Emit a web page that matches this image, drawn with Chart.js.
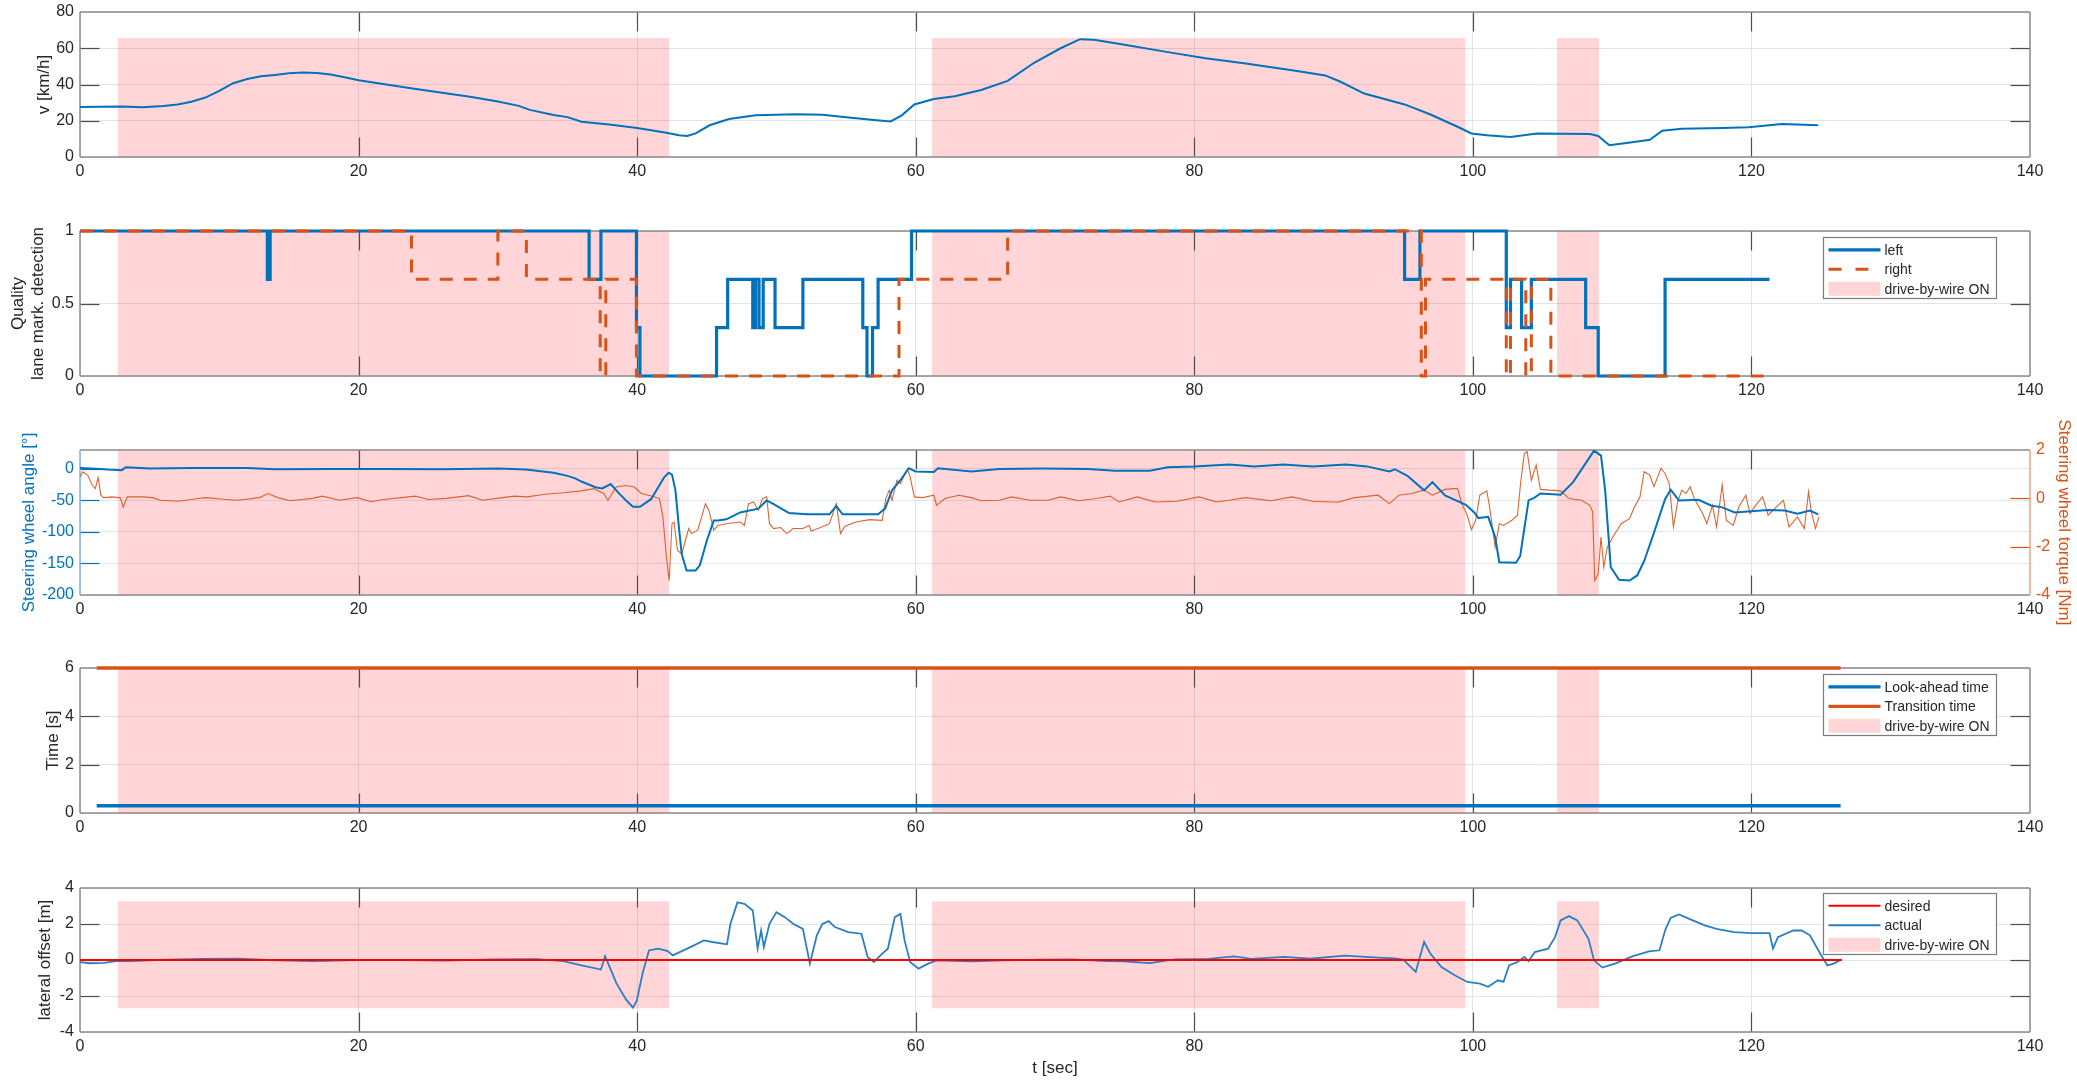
<!DOCTYPE html>
<html><head><meta charset="utf-8">
<script src="https://cdn.jsdelivr.net/npm/chart.js@4.4.1/dist/chart.umd.min.js"></script>
<style>
html,body{margin:0;padding:0;background:#fff;width:2077px;height:1088px;overflow:hidden;position:relative;}
canvas.c{position:absolute;left:0;}
</style></head><body>
<canvas id="c1" class="c"></canvas>
<canvas id="c2" class="c"></canvas>
<canvas id="c3" class="c"></canvas>
<canvas id="c4" class="c"></canvas>
<canvas id="c5" class="c"></canvas>
<script>
// ---------------- data ----------------
const xTicks = [0,20,40,60,80,100,120,140];
const dbwStart = [2.72, 61.18, 106.04];
const dbwEnd   = [42.3, 99.45, 109.05];

// subplot 1: speed
const speedT = [0,1.5,3,4.5,6,7,8,9,10,11,12,13,14,15,16,17,18,19,20,22,24,26,28,30,31.5,32.3,34,35,36,38,40,42,43,43.6,44.2,45.2,46.6,48.5,51.4,53.3,55.2,57,58.2,59,59.9,61.3,62.8,64.7,66.6,68.5,70.4,71.8,72.8,75.1,78,80.8,83.7,87.5,89.4,90.5,92.2,95.1,97,98.9,99.9,101,102.7,104.6,106.5,108.4,109,109.8,111.3,112.7,113.6,115,117.9,119.8,122.2,124.8];
const speedV = [27.6,27.7,27.8,27.5,28.2,29,30.5,32.8,36.5,40.7,43,44.5,45.3,46.2,46.6,46.4,45.5,44,42.4,40,37.6,35.4,33.2,30.6,28.2,26,23.2,22,19.5,17.9,16,13.5,12,11.6,13,17.5,21,23,23.6,23.3,21.8,20.4,19.6,23,29,32,33.5,37,42,52,60,65,64.7,61.8,58,54.5,51.6,47.3,45,41.5,35,29,23.3,16.7,13,12,11,13,12.8,12.7,11.6,6.5,8,9.5,14.5,15.6,16,16.4,18.2,17.5];
const speedTicks = [0,20,40,60,80];

// subplot 2: lane marking quality (step values)
const qLeftT = [0,13.45,13.65,36.55,37.4,39.95,40.2,45.7,46.5,48.3,48.5,48.75,49.05,49.9,51.9,56.2,56.5,56.9,57.3,59.7,95.1,96.2,102.4,102.7,103.5,104.2,108.1,109.0,113.8,121.3];
const qLeftV = [1,0.667,1,0.667,1,0.333,0,0.333,0.667,0.333,0.667,0.333,0.667,0.333,0.667,0.333,0,0.333,0.667,1,0.667,1,0.333,0.667,0.333,0.667,0.333,0,0.667,0.667];
const qRightT = [0,23.8,30.0,32.05,37.35,37.75,39.95,58.8,66.6,96.3,96.6,102.4,102.7,103.8,104.2,105.6,121.3];
const qRightV = [1,0.667,1,0.667,0,0.667,0,0.667,1,0,0.667,0,0.667,0,0.667,0,0];
const qualTicks = [0,0.5,1];

// subplot 3: steering wheel angle (left) and torque (right)
const angleT = [0,1.5,2,3,3.3,5,8,12,14,18,22,26,30,32,34,35,35.55,36,37,37.5,38.1,38.75,39.2,39.7,40.2,41,41.95,42.27,42.5,42.75,43,43.2,43.55,44.2,44.5,45,45.5,45.8,46.4,47.4,48.7,49.3,49.8,50.6,50.9,52.2,53.8,54.3,54.75,57.3,57.8,58.3,58.9,59.5,60,61.3,61.6,64,66,69.2,72.4,74.3,76.8,78.1,80,82.5,84.3,86.4,88.5,90.9,92.4,94,94.4,95.3,96.5,97.1,98,99.5,100.1,100.4,101.1,101.6,101.9,103.1,103.4,104,104.4,104.85,106.3,107.2,108.7,109.2,109.5,109.9,110.5,111.25,111.8,112.3,112.9,113.8,114.2,114.8,116.2,117.1,117.9,118.8,120,121.2,122.4,123.3,124.2,124.8];
const angleV = [1.6,0,-1,-2,2.6,0.5,1.6,1.6,-0.5,0,0,-0.5,0.5,-1,-6,-11,-15,-20,-29,-31,-24,-40,-50,-60,-60,-48,-13,-6,-9,-34,-93,-135,-161,-161,-153,-114,-82,-82,-80,-69,-63,-50,-56,-66,-70,-72,-72,-59,-72,-72,-63,-34,-18,1,-4,-5,1,-4,0,0.5,0,-3,-3,2.6,3.7,7,3.7,7,3.7,7,4,-4,-0.5,-11,-34,-21,-42,-57,-69,-78,-76,-108,-148,-149,-138,-50,-46,-39,-41,-21,29,21,-34,-156,-176,-177,-169,-146,-108,-48,-33,-50,-49,-58,-61,-69,-67,-65,-66,-71,-66,-72];
const torqueT = [0,0.2,0.55,0.87,1.1,1.3,1.5,1.7,2.3,2.9,3.1,3.4,4.55,5.2,5.8,7.1,8.1,9,10.3,11.3,12.9,13.5,14.2,15.1,16.7,17.4,18.65,19.9,20.9,21.8,23.1,24.1,25,26.3,27.9,28.9,30.2,31.2,32.1,33.4,34.7,36,36.9,37.6,37.9,38.5,39.2,39.8,40.3,41.1,41.6,41.85,42.1,42.3,42.5,42.65,42.9,43.2,43.4,43.7,43.9,44.35,44.7,44.9,45.15,45.5,45.8,46.4,47.4,47.7,48,48.35,48.7,49,49.3,49.5,49.8,50.3,50.75,51.2,51.9,52.35,52.5,53.15,53.8,54.3,54.6,54.9,55.7,56.7,57.6,57.85,58.1,58.3,58.65,58.9,59.4,59.6,59.9,60.5,61.3,61.5,62.1,63.1,64,64.7,66,66.9,68.2,69.5,70.4,71.7,73,73.95,74.6,75.9,77.2,78.75,80.35,81.6,82.5,83.7,85.5,87,88.5,90.3,91.5,93.2,94,94.7,95.6,96.5,97.1,98,98.9,99.2,99.6,99.9,100.2,100.5,101,101.2,101.6,101.9,102.2,102.8,103.2,103.45,103.7,103.9,104.2,104.55,104.85,105.45,106.3,106.9,107.8,108.4,108.6,108.75,109,109.2,109.4,109.65,110.05,110.65,111.25,111.55,112,112.3,112.7,113,113.5,113.8,114.1,114.4,114.7,115,115.3,115.6,115.9,116.5,116.8,117.2,117.5,117.9,118.2,118.7,119.1,119.6,119.9,120.3,120.8,121.2,121.8,122.3,122.7,123.3,123.8,124.1,124.3,124.6,124.85];
const torqueV = [0.89,1.1,0.96,0.55,0.4,0.86,0.13,0.03,0.06,0.02,-0.36,0.06,0.06,0.03,-0.08,-0.12,-0.04,0.03,-0.04,-0.08,0.03,0.2,0.03,-0.1,0,0.09,-0.08,0.03,-0.14,-0.05,0.03,0.09,-0.05,0,0.11,-0.08,0.02,0.09,0.06,0.17,0.23,0.31,0.4,0.2,-0.08,0.47,0.53,0.47,0.2,0.09,-0.01,-0.77,-2.43,-3.4,-1.05,-0.98,-2.16,-2.3,-1.88,-1.25,-1.46,-1.32,-0.63,-0.22,-0.49,-1.32,-1.12,-1.05,-0.98,-1.12,-0.22,-0.15,-0.49,-0.01,0.06,-1.05,-1.25,-1.21,-1.46,-1.25,-1.25,-1.12,-1.35,-1.21,-1.05,-0.22,-1.46,-1.16,-0.98,-0.88,-0.91,-0.01,0.34,-0.08,0.75,0.61,1.2,0.89,0.06,0.03,0.13,-0.29,-0.01,0.13,0.03,-0.1,-0.08,0.06,-0.08,-0.08,0.06,-0.1,-0.01,0.09,-0.15,0.06,-0.15,-0.12,0.06,-0.15,-0.08,0.03,-0.1,0.06,-0.12,-0.16,0.03,0.13,-0.22,0.13,0.2,0.34,0.13,0.37,0.41,-0.22,-0.7,-1.3,-0.91,0.13,0.31,-0.35,-2.02,-1.05,-1.12,-0.91,-0.7,0.75,1.86,1.93,0.75,1.38,0.37,0.34,0.31,-0.01,-0.08,-0.29,-0.56,-3.4,-3.12,-1.6,-2.85,-2.02,-1.6,-1.05,-0.84,-0.42,0.06,1.1,0.96,0.48,1.24,1.03,0.61,-1.19,-0.15,0.34,0.2,0.48,-0.01,-0.63,-1.05,-0.29,-1.19,0.55,-0.91,-1.12,-0.35,0.13,-0.63,-0.29,0.06,-0.7,-0.35,-0.08,-1.19,-0.77,-1.25,0.27,-0.56,-1.25,-0.77];
const angleTicks = [-200,-150,-100,-50,0];
const torqueTicks = [-4,-2,0,2];

// subplot 4: times
const lookT = [1.2,126.4];  const lookV = [0.3,0.3];
const transT = [1.2,126.4]; const transV = [6,6];
const timeTicks = [0,2,4,6];

// subplot 5: lateral offset
const desT = [0,126.5]; const desV = [0,0];
const latT = [0,0.7,1.7,2.6,3.6,5.5,8.7,11.3,13.5,16.7,19.9,23.1,26.3,29.6,32.8,34.7,36,37.4,37.7,38,38.5,39.2,39.7,39.97,40.4,40.85,41.5,42.2,42.55,43.6,44.8,45.4,46.45,46.7,47.2,47.7,48.3,48.65,48.9,49.1,49.5,50,50.6,51.2,51.9,52.4,52.9,53.3,53.75,54.2,55.15,56.1,56.55,57,57.6,58,58.5,58.9,59.2,59.6,60.2,60.9,61.5,64,66.4,68.85,71.3,73.7,74.9,76.8,78.6,81,82.85,84.1,86.5,88.3,90.8,93.2,94.4,95,95.9,96.5,96.95,97.75,98.7,99.6,100.5,101.1,101.8,102.2,102.6,103.2,103.7,104,104.45,105.4,105.9,106.3,106.9,107.5,108.3,108.7,109.3,110.2,111.45,112.65,113.4,113.8,114.2,114.8,115.7,116.65,117.5,118.75,120,121.3,121.55,121.9,123,123.6,124.2,124.8,125.45,125.9,126.4];
const latV = [-0.12,-0.18,-0.16,-0.06,-0.06,0,0.06,0.08,0,-0.06,0,0,-0.03,0.03,0.05,-0.06,-0.3,-0.53,0.21,-0.34,-1.27,-2.19,-2.65,-2.28,-0.71,0.53,0.63,0.49,0.26,0.63,1.09,1.0,0.87,2.01,3.2,3.12,2.75,0.63,1.64,0.72,2.01,2.66,2.38,2.01,1.73,-0.2,1.37,2.01,2.16,1.83,1.55,1.46,0.17,-0.11,0.35,0.63,2.38,2.56,1.09,-0.11,-0.48,-0.2,-0.02,-0.07,-0.02,0.02,0.04,-0.06,-0.07,-0.17,0.04,0.06,0.2,0.06,0.17,0.07,0.24,0.13,0.09,0.02,-0.66,1.0,0.35,-0.39,-0.85,-1.22,-1.31,-1.49,-1.13,-1.22,-0.3,-0.11,0.17,-0.06,0.44,0.63,1.27,2.2,2.44,2.2,1.18,-0.02,-0.42,-0.2,0.2,0.48,0.54,1.64,2.34,2.53,2.23,1.92,1.73,1.55,1.49,1.49,0.63,1.27,1.64,1.64,1.37,0.54,-0.3,-0.2,0];
const latTicks = [-4,-2,0,2,4];

// ---------------- style ----------------
const FF = "'Liberation Sans', Arial, Helvetica, sans-serif";
const BLUE = '#0072BD', ORANGE = '#D95319', RED = '#FF0000';
const PINK = 'rgba(255,0,12,0.165)';
const TXT = '#262626';
const GRID = '#e3e3e3';
const PAD_TOP = 36;
const TICK_FS = 16, TITLE_FS = 17;
const pts = (T, V) => T.map((t, i) => ({x: t, y: V[i]}));

const matPlugin = {
  id: 'mat',
  beforeDatasetsDraw(chart, args, o) {
    const {ctx, chartArea: a, scales} = chart;
    const ys = scales[o.shadeAxis || 'y'];
    ctx.save();
    ctx.beginPath(); ctx.rect(a.left, a.top, a.right - a.left, a.bottom - a.top); ctx.clip();
    ctx.fillStyle = PINK;
    for (let i = 0; i < dbwStart.length; i++) {
      const x0 = scales.x.getPixelForValue(dbwStart[i]);
      const x1 = scales.x.getPixelForValue(dbwEnd[i]);
      const y0 = ys.getPixelForValue(o.shadeHi);
      const y1 = ys.getPixelForValue(o.shadeLo);
      ctx.fillRect(x0, y0, x1 - x0, y1 - y0);
    }
    ctx.restore();

    const TL = 19.5;
    ctx.save();
    ctx.lineWidth = 1.2;
    ctx.strokeStyle = '#4d4d4d';
    scales.x.ticks.forEach(t => {
      if (t.value <= scales.x.min || t.value >= scales.x.max) return;
      const px = Math.round(scales.x.getPixelForValue(t.value)) + 0.5;
      ctx.beginPath();
      ctx.moveTo(px, a.bottom); ctx.lineTo(px, a.bottom - TL);
      ctx.moveTo(px, a.top); ctx.lineTo(px, a.top + TL);
      ctx.stroke();
    });
    const yl = scales.y;
    ctx.strokeStyle = o.leftTickColor || '#4d4d4d';
    yl.ticks.forEach(t => {
      if (t.value <= yl.min || t.value >= yl.max) return;
      const py = Math.round(yl.getPixelForValue(t.value)) + 0.5;
      ctx.beginPath(); ctx.moveTo(a.left, py); ctx.lineTo(a.left + TL, py); ctx.stroke();
      if (!scales.y2) { ctx.beginPath(); ctx.moveTo(a.right, py); ctx.lineTo(a.right - TL, py); ctx.stroke(); }
    });
    if (scales.y2) {
      const yr = scales.y2;
      ctx.strokeStyle = o.rightTickColor || '#4d4d4d';
      yr.ticks.forEach(t => {
        if (t.value <= yr.min || t.value >= yr.max) return;
        const py = Math.round(yr.getPixelForValue(t.value)) + 0.5;
        ctx.beginPath(); ctx.moveTo(a.right, py); ctx.lineTo(a.right - TL, py); ctx.stroke();
      });
    }
    ctx.lineWidth = 1.5;
    ctx.strokeStyle = '#8c8c8c';
    ctx.beginPath();
    ctx.moveTo(a.left, a.top); ctx.lineTo(a.right, a.top);
    ctx.moveTo(a.left, a.bottom); ctx.lineTo(a.right, a.bottom);
    ctx.stroke();
    ctx.strokeStyle = o.leftSpine || '#8c8c8c';
    ctx.beginPath(); ctx.moveTo(a.left, a.top); ctx.lineTo(a.left, a.bottom); ctx.stroke();
    ctx.strokeStyle = o.rightSpine || '#8c8c8c';
    ctx.beginPath(); ctx.moveTo(a.right, a.top); ctx.lineTo(a.right, a.bottom); ctx.stroke();
    ctx.restore();
  },
  afterDraw(chart, args, o) {
    if (!o.legend) return;
    const {ctx, chartArea: a} = chart;
    const w = 173, h = 61;
    const x = Math.round(a.right - 34 - w) + 0.5, y = Math.round(a.top + o.legendTop) + 0.5;
    ctx.save();
    ctx.fillStyle = '#fff';
    ctx.fillRect(x, y, w, h);
    ctx.strokeStyle = '#7a7a7a'; ctx.lineWidth = 1.2;
    ctx.strokeRect(x, y, w, h);
    ctx.font = '14px ' + FF;
    ctx.textBaseline = 'middle';
    o.legend.forEach((it, i) => {
      const cy = y + 12.3 + i * 19.5;
      if (it.patch) {
        ctx.fillStyle = PINK;
        ctx.fillRect(x + 5, cy - 7, 52, 14);
      } else {
        ctx.strokeStyle = it.color; ctx.lineWidth = it.width;
        ctx.setLineDash(it.dash || []);
        ctx.beginPath(); ctx.moveTo(x + 5, cy); ctx.lineTo(x + 57, cy); ctx.stroke();
        ctx.setLineDash([]);
      }
      ctx.fillStyle = TXT;
      ctx.fillText(it.label, x + 61, cy + 1);
    });
    ctx.restore();
  }
};

function xScale(xh, title) {
  return {
    type: 'linear', min: 0, max: 140,
    afterBuildTicks: s => { s.ticks = xTicks.map(v => ({value: v})); },
    afterFit: s => { s.height = xh; },
    grid: {color: GRID, drawTicks: false, lineWidth: 1},
    border: {display: false},
    ticks: {font: {family: FF, size: TICK_FS}, color: TXT, padding: 5, autoSkip: false, maxRotation: 0, callback: v => String(v)},
    title: title ? {display: true, text: title, color: TXT, font: {family: FF, size: TITLE_FS, lineHeight: 1.2}, padding: {top: 0, bottom: 9}} : {display: false}
  };
}
function yScale(o) {
  return {
    type: 'linear', position: o.position || 'left', min: o.min, max: o.max,
    afterBuildTicks: s => { s.ticks = o.ticks.map(v => ({value: v})); },
    afterFit: s => { s.width = o.width; },
    grid: o.noGrid ? {drawOnChartArea: false, drawTicks: false} : {color: o.gridColor || GRID, drawTicks: false, lineWidth: 1},
    border: {display: false},
    ticks: {font: {family: FF, size: TICK_FS}, color: o.color || TXT, padding: 6, autoSkip: false, callback: v => String(v)},
    title: {display: true, text: o.title, color: o.titleColor || TXT, font: {family: FF, size: TITLE_FS, lineHeight: 1.2}, padding: {top: o.titlePad, bottom: 0}}
  };
}

function makeChart(id, plotTop, plotBottom, xh, hasRight, datasets, scales, matOpts) {
  const el = document.getElementById(id);
  const h = (plotBottom - plotTop) + PAD_TOP + xh;
  el.width = 2077; el.height = h;
  el.style.width = '2077px'; el.style.height = h + 'px';
  el.style.top = (plotTop - PAD_TOP) + 'px';
  return new Chart(el, {
    type: 'line',
    data: {datasets},
    options: {
      responsive: false, animation: false, devicePixelRatio: 1,
      layout: {padding: {top: PAD_TOP, left: 0, right: hasRight ? 0 : 47, bottom: 0}},
      plugins: {legend: {display: false}, tooltip: {enabled: false}, mat: matOpts},
      elements: {point: {radius: 0}, line: {tension: 0}},
      scales
    },
    plugins: [matPlugin]
  });
}

// ---- subplot 1 ----
makeChart('c1', 12, 157, 40, false,
  [{data: pts(speedT, speedV), borderColor: BLUE, borderWidth: 2, fill: false}],
  {x: xScale(40), y: yScale({min: 0, max: 80, ticks: speedTicks, width: 80, title: 'v [km/h]', titlePad: 34.4})},
  {shadeLo: 0, shadeHi: 65.6});

// ---- subplot 2 ----
makeChart('c2', 231, 376, 40, false,
  [
    {data: pts(qRightT, qRightV), borderColor: ORANGE, borderWidth: 3, borderDash: [13, 11], stepped: true, fill: false, order: 0, clip: 4},
    {data: pts(qLeftT, qLeftV), borderColor: BLUE, borderWidth: 3.2, stepped: true, fill: false, order: 1, clip: 4}
  ],
  {x: xScale(40), y: yScale({min: 0, max: 1, ticks: qualTicks, width: 80, title: ['Quality', 'lane mark. detection'], titlePad: 7.8})},
  {shadeLo: 0, shadeHi: 1, legendTop: 6, legend: [
    {label: 'left', color: BLUE, width: 3.2},
    {label: 'right', color: ORANGE, width: 3, dash: [13, 14]},
    {label: 'drive-by-wire ON', patch: true}
  ]});

// ---- subplot 3 ----
makeChart('c3', 450, 595, 40, true,
  [
    {data: pts(angleT, angleV), borderColor: BLUE, borderWidth: 2, fill: false, yAxisID: 'y', order: 0},
    {data: pts(torqueT, torqueV), borderColor: 'rgba(217,83,25,0.9)', borderWidth: 1.1, fill: false, yAxisID: 'y2', order: 1}
  ],
  {
    x: xScale(40),
    y: yScale({min: -200, max: 30, ticks: angleTicks, width: 80, color: BLUE, titleColor: BLUE, gridColor: '#dde8f2', title: 'Steering wheel angle [°]', titlePad: 18.8}),
    y2: yScale({position: 'right', min: -4, max: 2, ticks: torqueTicks, width: 47, color: ORANGE, titleColor: ORANGE, noGrid: true, title: 'Steering wheel torque [Nm]', titlePad: 2.8})
  },
  {shadeLo: -200, shadeHi: 30, leftSpine: '#80b6de', rightSpine: '#f0a888', leftTickColor: BLUE, rightTickColor: ORANGE});

// ---- subplot 4 ----
makeChart('c4', 668, 813, 40, false,
  [
    {data: pts(lookT, lookV), borderColor: BLUE, borderWidth: 3.5, fill: false, clip: 4},
    {data: pts(transT, transV), borderColor: ORANGE, borderWidth: 3.5, fill: false, clip: 4}
  ],
  {x: xScale(40), y: yScale({min: 0, max: 6, ticks: timeTicks, width: 80, title: 'Time [s]', titlePad: 43.4})},
  {shadeLo: 0, shadeHi: 6, legendTop: 6, legend: [
    {label: 'Look-ahead time', color: BLUE, width: 3.2},
    {label: 'Transition time', color: ORANGE, width: 3.2},
    {label: 'drive-by-wire ON', patch: true}
  ]});

// ---- subplot 5 ----
makeChart('c5', 888, 1032, 56, false,
  [
    {data: pts(desT, desV), borderColor: RED, borderWidth: 2, fill: false, order: 0},
    {data: pts(latT, latV), borderColor: '#2a7fc4', borderWidth: 1.8, fill: false, order: 1}
  ],
  {x: xScale(56, 't [sec]'), y: yScale({min: -4, max: 4, ticks: latTicks, width: 80, title: 'lateral offset [m]', titlePad: 35.3})},
  {shadeLo: -2.68, shadeHi: 3.26, legendTop: 5, legend: [
    {label: 'desired', color: RED, width: 2},
    {label: 'actual', color: '#2a7fc4', width: 2},
    {label: 'drive-by-wire ON', patch: true}
  ]});
</script>
</body></html>
